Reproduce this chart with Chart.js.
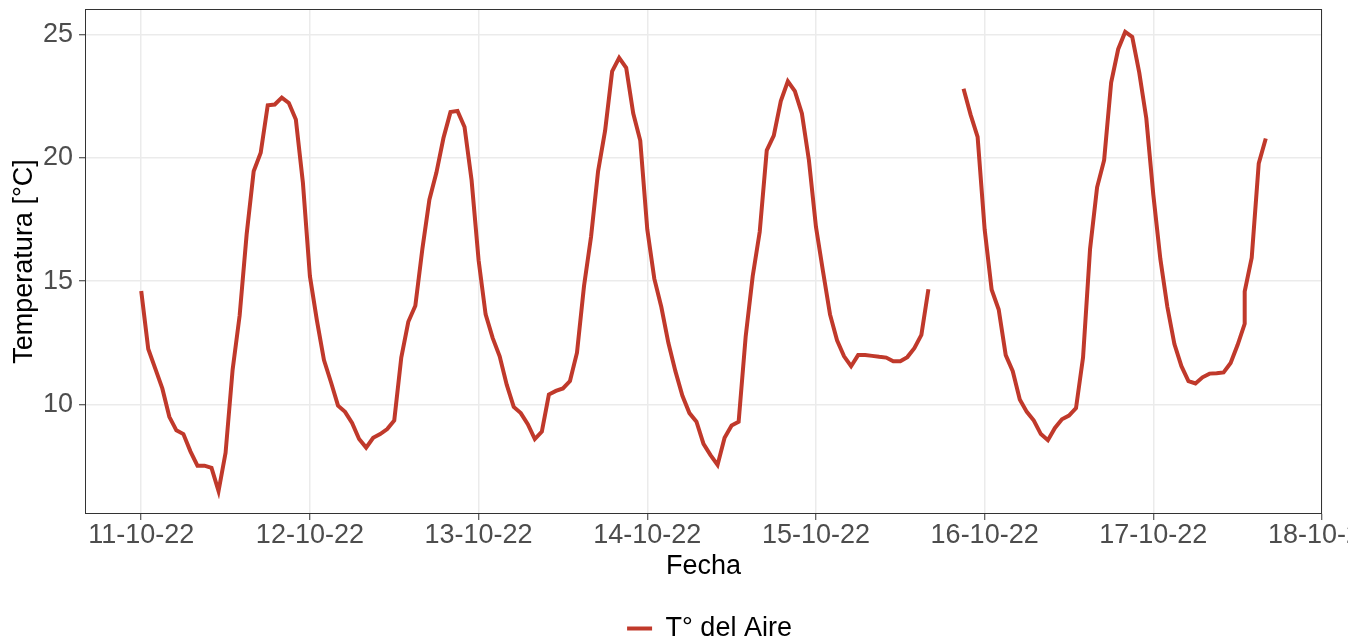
<!DOCTYPE html>
<html>
<head>
<meta charset="utf-8">
<script src="https://cdn.jsdelivr.net/npm/chart.js@4/dist/chart.umd.min.js"></script>
<style>
  html, body { margin: 0; padding: 0; background: #ffffff; }
  #chart { display: block; }
</style>
</head>
<body>
<canvas id="chart" width="1348" height="642"></canvas>
<script>
'use strict';

// ── Data (hours since 11-10-22 00:00, hourly air temperature) ──────────────
const HOURS = [
  0, 1, 2, 3, 4, 5, 6, 7, 8, 9, 10, 11, 12, 13, 14, 15, 16, 17, 18, 19, 20, 21, 22, 23,
  24, 25, 26, 27, 28, 29, 30, 31, 32, 33, 34, 35, 36, 37, 38, 39, 40, 41, 42, 43, 44, 45, 46, 47,
  48, 49, 50, 51, 52, 53, 54, 55, 56, 57, 58, 59, 60, 61, 62, 63, 64, 65, 66, 67, 68, 69, 70, 71,
  72, 73, 74, 75, 76, 77, 78, 79, 80, 81, 82, 83, 84, 85, 86, 87, 88, 89, 90, 91, 92, 93, 94, 95,
  96, 97, 98, 99, 100, 101, 102, 103, 104, 105, 106, 107, 108, 109, 110, 111, 112, 113, 114, 115, 116, 117, 118, 119,
  120, 121, 122, 123, 124, 125, 126, 127, 128, 129, 130, 131, 132, 133, 134, 135, 136, 137, 138, 139, 140, 141, 142, 143,
  144, 145, 146, 147, 148, 149, 150, 151, 152, 153, 154, 155, 156, 157, 157, 158, 159, 160,
];

const TEMP_AIRE = [
  14.6, 12.25, 11.45, 10.65, 9.5, 8.95, 8.8, 8.1, 7.52, 7.52, 7.43, 6.49, 8.04, 11.4, 13.6, 16.9, 19.45, 20.2, 22.13, 22.16, 22.44, 22.22, 21.55, 19.0,
  15.2, 13.4, 11.8, 10.9, 9.95, 9.7, 9.25, 8.6, 8.25, 8.65, 8.8, 9.0, 9.35, 11.9, 13.35, 14.0, 16.3, 18.3, 19.4, 20.8, 21.85, 21.9, 21.25, 19.1,
  15.85, 13.65, 12.7, 11.95, 10.8, 9.9, 9.65, 9.2, 8.6, 8.9, 10.4, 10.55, 10.65, 10.95, 12.1, 14.8, 16.8, 19.45, 21.1, 23.5, 24.05, 23.65, 21.8, 20.7,
  17.1, 15.1, 13.95, 12.5, 11.35, 10.35, 9.65, 9.3, 8.4, 7.95, 7.55, 8.65, 9.15, 9.3, 12.75, 15.2, 17.0, 20.3, 20.9, 22.3, 23.1, 22.7, 21.8, 19.9,
  17.2, 15.4, 13.65, 12.6, 11.95, 11.55, 12.0, 12.0, 11.97, 11.93, 11.9, 11.75, 11.75, 11.92, 12.28, 12.82, 14.67, null, null, null, null, 22.8, 21.75, 20.85,
  17.1, 14.65, 13.85, 12.0, 11.35, 10.2, 9.7, 9.35, 8.8, 8.55, 9.05, 9.4, 9.55, 9.85, 11.9, 16.3, 18.8, 19.9, 23.05, 24.4, 25.1, 24.9, 23.45, 21.6,
  18.5, 15.9, 13.95, 12.45, 11.55, 10.95, 10.85, 11.1, 11.25, 11.27, 11.3, 11.68, 12.42, 13.27, 14.58, 15.95, 19.77, 20.78,
];

const TICK_HOURS  = [0, 24, 48, 72, 96, 120, 144, 168];
const DAY_LABELS  = ['11-10-22', '12-10-22', '13-10-22', '14-10-22', '15-10-22', '16-10-22', '17-10-22', '18-10-22'];
const TEMP_TICKS  = [10, 15, 20, 25];

// ── Theme (ggplot theme_bw look) ──────────────────────────────────────────
const THEME = {
  line:   '#C0392B',
  grid:   '#EBEBEB',
  border: '#333333',
  tick:   '#4D4D4D',
  text:   '#000000',
};

Chart.defaults.font.family = "'Liberation Sans', Arial, sans-serif";
Chart.defaults.font.size   = 27;

// panel border on all four sides
const panelBorder = {
  id: 'panelBorder',
  afterDraw(chart) {
    const { ctx, chartArea: a } = chart;
    ctx.save();
    ctx.strokeStyle = THEME.border;
    ctx.lineWidth = 1;
    ctx.strokeRect(a.left + 0.5, a.top + 0.5, a.right - a.left - 1, a.bottom - a.top - 1);
    ctx.restore();
  },
};

// ggplot centres the legend a little right of the panel centre
const legendNudge = {
  id: 'legendNudge',
  afterLayout(chart) {
    if (chart.legend) {
      chart.legend.left += 6;
      chart.legend.right += 6;
    }
  },
};

const points = HOURS.map((h, i) => ({ x: h, y: TEMP_AIRE[i] }));

new Chart(document.getElementById('chart').getContext('2d'), {
  type: 'line',
  data: {
    datasets: [{
      label: 'T° del Aire',
      data: points,
      borderColor: THEME.line,
      backgroundColor: THEME.line,
      borderWidth: 4,
      pointRadius: 0,
      tension: 0,
      spanGaps: false,
    }],
  },
  options: {
    responsive: false,
    devicePixelRatio: 1,
    animation: false,
    layout: { padding: { top: 9, right: 26, bottom: -10, left: 0 } },
    plugins: {
      tooltip: { enabled: false },
      legend: {
        position: 'bottom',
        fullSize: false,
        labels: {
          usePointStyle: true,
          pointStyle: 'line',
          pointStyleWidth: 25,
          color: THEME.text,
          padding: 10,
          font: { size: 27 },
        },
      },
    },
    scales: {
      x: {
        type: 'linear',
        min: -8,
        max: 168,
        afterBuildTicks: (s) => { s.ticks = TICK_HOURS.map(v => ({ value: v })); },
        afterFit: (s) => { s.height = 91; s.paddingLeft = 0; s.paddingRight = 0; },
        grid: { color: THEME.grid, lineWidth: 1.5, tickColor: THEME.border, tickLength: 6, tickWidth: 1 },
        border: { display: false },
        ticks: {
          color: THEME.tick,
          padding: -1,
          maxRotation: 0,
          autoSkip: false,
          callback: (v) => DAY_LABELS[TICK_HOURS.indexOf(v)],
        },
        title: { display: true, text: 'Fecha', color: THEME.text, padding: { top: 0, bottom: 22 } },
      },
      y: {
        type: 'linear',
        min: 5.56,
        max: 26.03,
        afterBuildTicks: (s) => { s.ticks = TEMP_TICKS.map(v => ({ value: v })); },
        afterFit: (s) => { s.width = 85; s.paddingTop = 0; s.paddingBottom = 0; },
        grid: { color: THEME.grid, lineWidth: 1.5, tickColor: THEME.border, tickLength: 6, tickWidth: 1 },
        border: { display: false },
        ticks: { color: THEME.tick, padding: 6 },
        title: { display: true, text: 'Temperatura [°C]', color: THEME.text, padding: { top: 8, bottom: 0 } },
      },
    },
  },
  plugins: [panelBorder, legendNudge],
});
</script>
</body>
</html>
